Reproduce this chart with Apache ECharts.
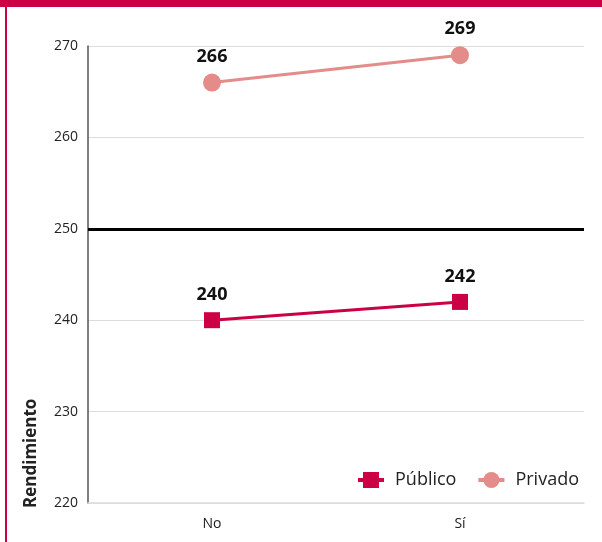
<!DOCTYPE html>
<html><head><meta charset="utf-8">
<script src="https://cdn.jsdelivr.net/npm/echarts@6/dist/echarts.min.js"></script>
<style>html,body{margin:0;padding:0;background:#fff}#c{width:602px;height:542px}</style>
</head><body><div id="c"></div>
<script>
const categories = ['No', 'Sí'];
const publico = [240, 242];
const privado = [266, 269];
const referenceValue = 250;
const yMin = 220, yMax = 270, yStep = 10;

const crimson = '#CC0044';
const pink = '#E38C8A';
const font = '"Open Sans"';

const chart = echarts.init(document.getElementById('c'));
chart.setOption({
  animation: false,
  grid: {left: 88, right: 18, top: 46, bottom: 39},
  graphic: [
    {type: 'rect', shape: {x: 0, y: 0, width: 602, height: 7}, style: {fill: crimson}},
    {type: 'rect', shape: {x: 5, y: 0, width: 2, height: 542}, style: {fill: crimson}},
    {type: 'text', x: 31, y: 508, rotation: Math.PI / 2,
     style: {text: 'Rendimiento', font: 'bold 17px ' + font, fill: '#222', textAlign: 'left', textVerticalAlign: 'middle'}}
  ],
  legend: {
    right: 18, top: 466, itemGap: 20, itemWidth: 26, itemHeight: 20,
    lineStyle: {width: 4},
    textStyle: {fontFamily: font, fontSize: 18, color: '#222', padding: [0, 0, 0, 6]},
    data: ['Público', 'Privado']
  },
  xAxis: {
    type: 'category', data: categories,
    axisLine: {lineStyle: {color: '#dddddd', width: 1.5}},
    axisTick: {show: false},
    axisLabel: {fontFamily: font, fontSize: 14, color: '#222', margin: 14}
  },
  yAxis: {
    type: 'value', min: yMin, max: yMax, interval: yStep,
    axisLine: {show: true, lineStyle: {color: '#555', width: 1.5}},
    axisTick: {show: false},
    splitLine: {lineStyle: {color: '#dddddd', width: 1}},
    axisLabel: {fontFamily: font, fontSize: 14, color: '#222', margin: 10}
  },
  series: [
    {
      name: 'Público', type: 'line', data: publico,
      symbol: 'rect', symbolSize: 16,
      lineStyle: {color: crimson, width: 3}, itemStyle: {color: crimson},
      label: {show: true, position: 'top', distance: 8, fontFamily: font, fontWeight: 'bold', fontSize: 18, color: '#111'},
      markLine: {
        silent: true, symbol: 'none', label: {show: false},
        lineStyle: {color: '#000', width: 3, type: 'solid'},
        data: [{yAxis: referenceValue}]
      }
    },
    {
      name: 'Privado', type: 'line', data: privado,
      symbol: 'circle', symbolSize: 18,
      lineStyle: {color: pink, width: 3}, itemStyle: {color: pink},
      label: {show: true, position: 'top', distance: 8, fontFamily: font, fontWeight: 'bold', fontSize: 18, color: '#111'}
    }
  ]
});
</script></body></html>
